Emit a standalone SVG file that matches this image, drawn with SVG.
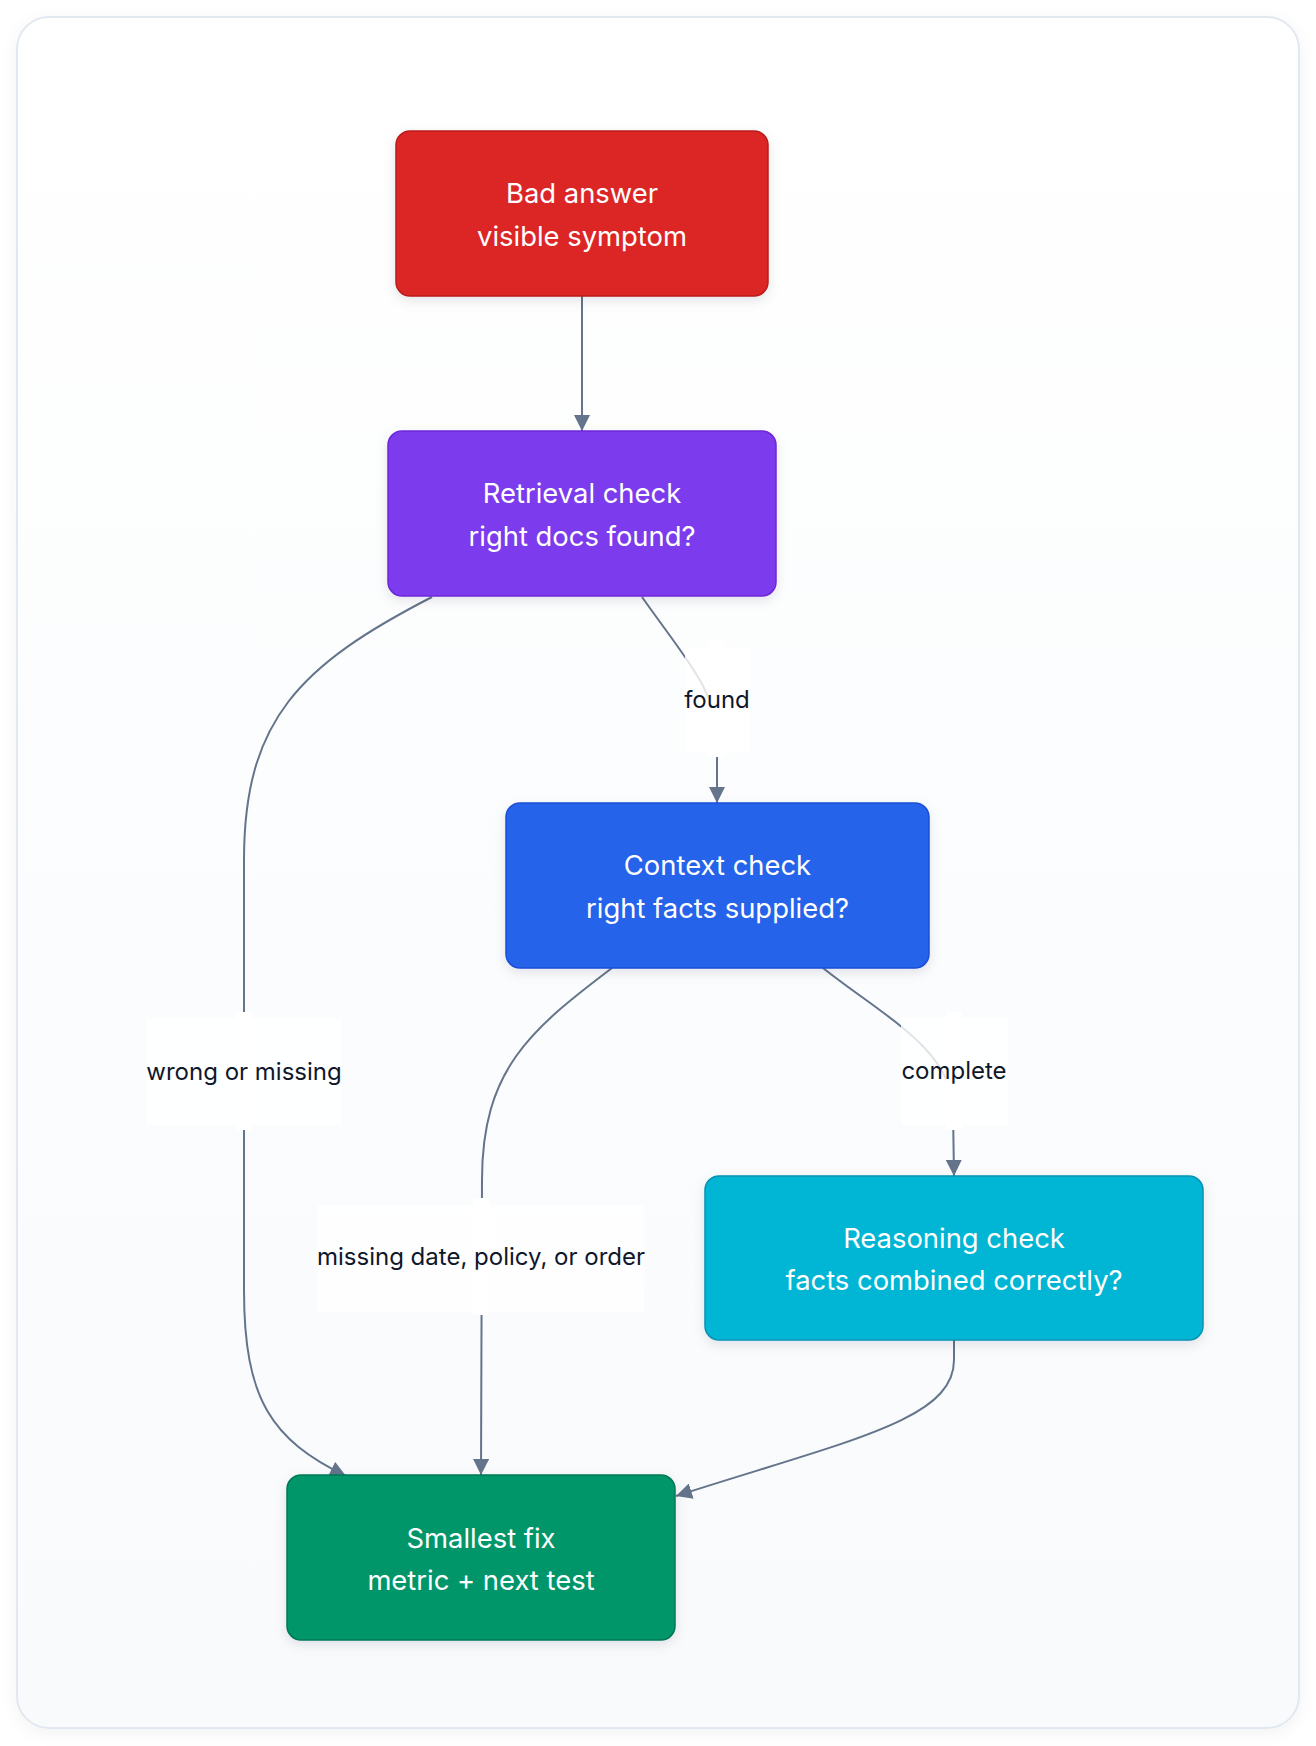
<svg xmlns="http://www.w3.org/2000/svg" width="1316" height="1746" viewBox="0 0 1316 1746">
<defs>
<linearGradient id="bg" x1="0" y1="0" x2="0" y2="1">
<stop offset="0" stop-color="#ffffff"/>
<stop offset="1" stop-color="#f8fafc"/>
</linearGradient>
<filter id="frameShadow" x="-5%" y="-5%" width="110%" height="110%">
<feDropShadow dx="0" dy="4" stdDeviation="8" flood-color="#0f172a" flood-opacity="0.05"/>
</filter>
<filter id="nodeShadow" x="-10%" y="-10%" width="120%" height="130%">
<feDropShadow dx="0" dy="4" stdDeviation="6" flood-color="#0f172a" flood-opacity="0.10"/>
</filter>
<marker id="arrow" markerUnits="userSpaceOnUse" markerWidth="16" markerHeight="16" refX="16" refY="8" orient="auto">
<path d="M0,0 L16,8 L0,16 z" fill="#64748b"/>
</marker>
<style>
.node rect { stroke-width: 1.5; filter: url(#nodeShadow); }
.node text { font-family: Inter, "Noto Sans", "Liberation Sans", sans-serif; font-size: 27.4px; fill: #ffffff; text-anchor: middle; }
.edge { fill: none; stroke: #64748b; stroke-width: 2; marker-end: url(#arrow); }
.lbl-wide { fill: #ffffff; opacity: 0.8; }
.lbl-narrow { fill: #ffffff; }
.lbl text { font-family: Inter, "Noto Sans", "Liberation Sans", sans-serif; font-size: 24px; fill: #0f172a; text-anchor: middle; }
</style>
</defs>

<rect x="17" y="17" width="1282" height="1711" rx="32" fill="url(#bg)" stroke="#e2e8f0" stroke-width="2" filter="url(#frameShadow)"/>

<g id="connectors">
<path class="edge" d="M582,296 L582,431"/>
<path class="edge" d="M642,597 C690,665 716,690 717,740 L717,803"/>
<path class="edge" d="M432,597 C300,665 244,720 244,860 L244,1290 C244,1400 272,1440 346,1476"/>
<path class="edge" d="M612,968 C530,1030 482,1070 482,1180 L481,1475"/>
<path class="edge" d="M823,968 C882,1015 953,1050 953,1110 L954,1176"/>
<path class="edge" d="M954,1340 L954,1360 C954,1420 850,1440 676,1496"/>
</g>

<g id="edge-labels">
<g class="lbl" id="label-found">
<rect class="lbl-wide" x="685" y="647" width="65" height="105"/>
<rect class="lbl-narrow" x="708" y="641" width="17" height="116"/>
<text x="717" y="708">found</text>
</g>
<g class="lbl" id="label-wrong">
<rect class="lbl-wide" x="147" y="1018" width="194" height="107"/>
<rect class="lbl-narrow" x="236" y="1012" width="16" height="118"/>
<text x="244" y="1080">wrong or missing</text>
</g>
<g class="lbl" id="label-missing">
<rect class="lbl-wide" x="318" y="1205" width="326" height="107"/>
<rect class="lbl-narrow" x="473" y="1198" width="16" height="117"/>
<text x="481" y="1265">missing date, policy, or order</text>
</g>
<g class="lbl" id="label-complete">
<rect class="lbl-wide" x="901" y="1018" width="107" height="107"/>
<rect class="lbl-narrow" x="946" y="1012" width="16" height="118"/>
<text x="954" y="1079">complete</text>
</g>
</g>

<g id="node-bad-answer" class="node">
<rect x="396" y="131" width="372" height="165" rx="14" fill="#dc2626" stroke="#b91c1c"/>
<text x="582" y="203">Bad answer</text>
<text x="582" y="246">visible symptom</text>
</g>

<g id="node-retrieval" class="node">
<rect x="388" y="431" width="388" height="165" rx="14" fill="#7c3aed" stroke="#6d28d9"/>
<text x="582" y="503">Retrieval check</text>
<text x="582" y="546">right docs found?</text>
</g>

<g id="node-context" class="node">
<rect x="506" y="803" width="423" height="165" rx="14" fill="#2563eb" stroke="#1d4ed8"/>
<text x="717.5" y="875">Context check</text>
<text x="717.5" y="918">right facts supplied?</text>
</g>

<g id="node-reasoning" class="node">
<rect x="705" y="1176" width="498" height="164" rx="14" fill="#06b6d4" stroke="#0891b2"/>
<text x="954" y="1248">Reasoning check</text>
<text x="954" y="1290">facts combined correctly?</text>
</g>

<g id="node-fix" class="node">
<rect x="287" y="1475" width="388" height="165" rx="14" fill="#059669" stroke="#047857"/>
<text x="481" y="1548">Smallest fix</text>
<text x="481" y="1590">metric + next test</text>
</g>
</svg>
